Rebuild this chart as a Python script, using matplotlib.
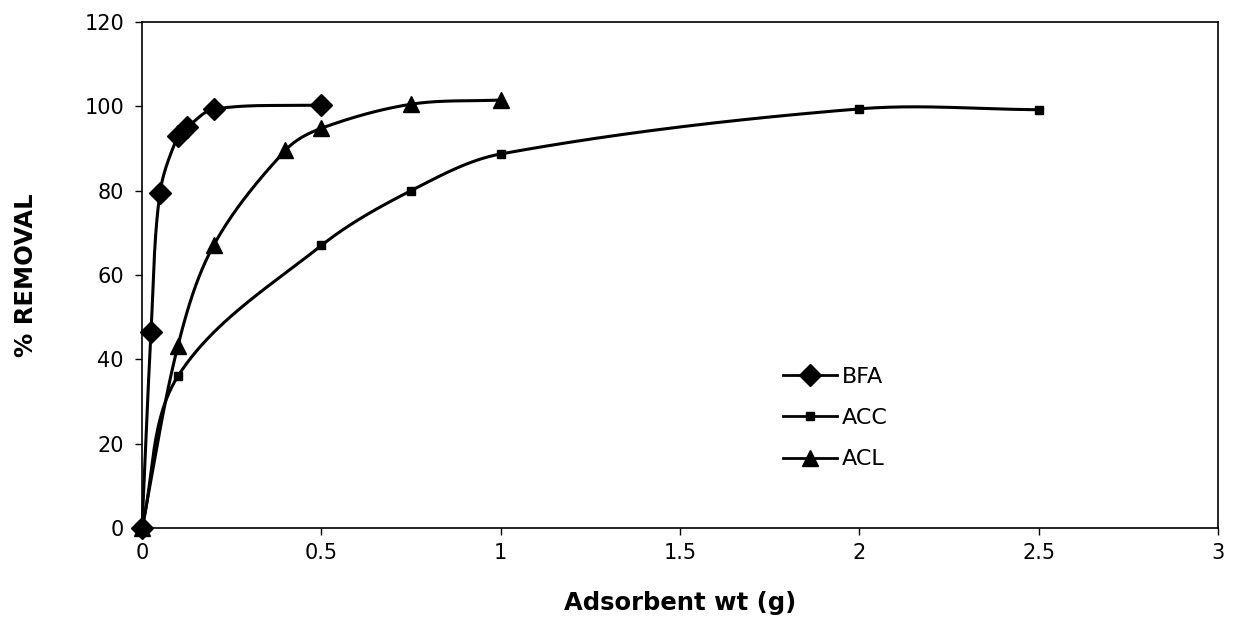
import numpy as np
import matplotlib
matplotlib.use("Agg")
import matplotlib.pyplot as plt
from matplotlib.lines import Line2D

plt.rcParams['font.family'] = ['DejaVu Sans']

# Data
bfa_x = [0, 0.025, 0.05, 0.1, 0.125, 0.2, 0.5]
bfa_y = [0, 46.5, 79.5, 93, 95, 99.3, 100.3]
acc_x = [0, 0.1, 0.5, 0.75, 1.0, 2.0, 2.5]
acc_y = [0, 36, 67, 80, 88.7, 99.4, 99.2]
acl_x = [0, 0.1, 0.2, 0.4, 0.5, 0.75, 1.0]
acl_y = [0, 43.2, 67.1, 89.6, 94.8, 100.5, 101.5]

x_ticks = [0, 0.5, 1, 1.5, 2, 2.5, 3]
x_tick_labels = ['0', '0.5', '1', '1.5', '2', '2.5', '3']
y_ticks = [0, 20, 40, 60, 80, 100, 120]

fig = plt.figure(figsize=(12.33, 6.34), dpi=100)
ax = fig.add_axes([0.1152, 0.1672, 0.8726, 0.7981])
ax.set_xlim(0, 3)
ax.set_ylim(0, 120)

# pixels per data unit, so smoothing is done in display space
sx = 1076 / 3.0
sy = 506 / 120.0


def smooth(xs, ys, n=50):
    P = np.column_stack([np.array(xs) * sx, np.array(ys) * sy])
    m = len(P)
    tang = []
    for i in range(m):
        a = P[i - 1] if i > 0 else P[i]
        b = P[i + 1] if i < m - 1 else P[i]
        d = b - a
        tang.append(d / np.linalg.norm(d))
    out = []
    for i in range(m - 1):
        p1, p2 = P[i], P[i + 1]
        L = np.linalg.norm(p2 - p1)
        c1 = p1 + tang[i] * L / 3.0
        c2 = p2 - tang[i + 1] * L / 3.0
        t = np.linspace(0, 1, n)[:, None]
        seg = ((1 - t) ** 3) * p1 + 3 * ((1 - t) ** 2) * t * c1 + 3 * (1 - t) * t ** 2 * c2 + t ** 3 * p2
        out.append(seg if i == 0 else seg[1:])
    S = np.vstack(out)
    return S[:, 0] / sx, S[:, 1] / sy


series = [
    ('BFA', bfa_x, bfa_y, 'D', 11),
    ('ACC', acc_x, acc_y, 's', 6),
    ('ACL', acl_x, acl_y, '^', 12),
]
handles = []
for name, xs, ys, mk, ms in series:
    cx, cy = smooth(xs, ys)
    ax.plot(cx, cy, color='black', lw=2.2, zorder=2, clip_on=False, solid_capstyle='round')
    ax.plot(xs, ys, linestyle='none', marker=mk, markersize=ms, color='black', zorder=3, clip_on=False)
    handles.append(Line2D([], [], color='black', lw=2, marker=mk, markersize=ms))

ax.set_xticks(x_ticks)
ax.set_xticklabels(x_tick_labels)
ax.set_yticks(y_ticks)
ax.tick_params(axis='both', direction='out', length=5, width=1, labelsize=15)
ax.tick_params(axis='y', pad=8)
ax.tick_params(axis='x', pad=6)
for s in ax.spines.values():
    s.set_linewidth(1.2)
    s.set_color('black')

ax.set_xlabel('Adsorbent wt (g)', fontsize=17.5, fontweight='bold', labelpad=20)
ax.set_ylabel('% REMOVAL', fontsize=17.5, fontweight='bold', labelpad=33)

leg = ax.legend(handles, ['BFA', 'ACC', 'ACL'], loc='center left', bbox_to_anchor=(0.596, 0.217),
                borderpad=0, borderaxespad=0, frameon=False, fontsize=16, handlelength=2.4,
                handletextpad=0.25, labelspacing=0.95)

fig.savefig('out.png', dpi=100)
